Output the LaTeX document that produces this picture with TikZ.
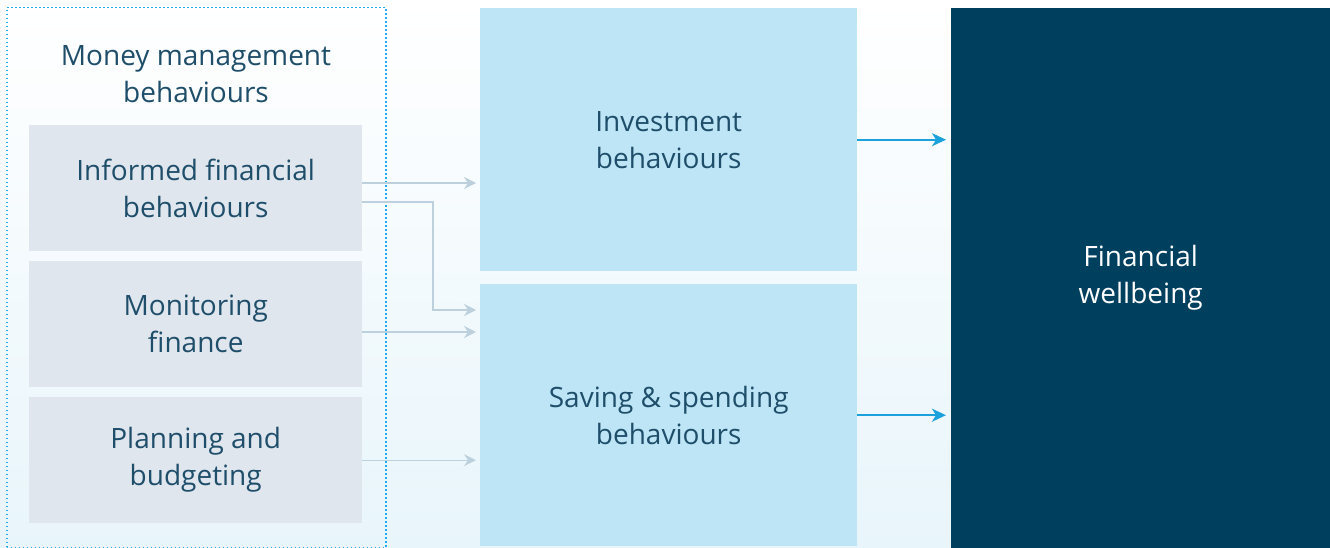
\documentclass[tikz,border=0pt]{standalone}
\usepackage{fontspec}
\setmainfont{Open Sans}
\usetikzlibrary{arrows.meta,calc}
\definecolor{bgbot}{HTML}{E8F5FB}
\definecolor{graybox}{HTML}{DFE6ED}
\definecolor{lightblue}{HTML}{BDE5F5}
\definecolor{darkblue}{HTML}{00405F}
\definecolor{txt}{HTML}{1F4E6B}
\definecolor{grayarr}{HTML}{BCD0DD}
\definecolor{bluearr}{HTML}{1BA1DB}
\definecolor{dotblue}{HTML}{1AAEEA}
\tikzset{
  box/.style={draw=none, anchor=north west, inner sep=0pt, align=center, text=txt,
    font=\fontsize{28}{37}\selectfont},
  graybx/.style={box, fill=graybox, minimum width=333pt, minimum height=126pt},
  bluebx/.style={box, fill=lightblue, minimum width=377pt},
  grayarrow/.style={draw=grayarr, line width=1.4pt, -{Stealth[length=12pt,width=12pt,inset=4pt]}, shorten >=4pt},
  bluearrow/.style={draw=bluearr, line width=1.8pt, -{Stealth[length=14pt,width=13pt,inset=4pt]}, shorten >=5pt},
}
\begin{document}
\begin{tikzpicture}[x=1pt,y=-1pt]
\useasboundingbox (0,0) rectangle (1330,548);
\shade[top color=white, bottom color=bgbot] (0,0) rectangle (1330,548);
\node[draw=dotblue, line width=1.5pt, dash pattern=on 1.5pt off 2.5pt, anchor=north west, minimum width=379pt, minimum height=540pt, inner sep=0pt] (mm) at (6,7) {};
\node[text=txt, align=center, font=\fontsize{28}{37}\selectfont] (mmt) at (196,74) {Money management\\behaviours};
\node[graybx] (inf) at (29,125) {Informed financial\\behaviours};
\node[graybx] (mon) at (29,261) {Monitoring\\finance};
\node[graybx] (pla) at (29,397) {Planning and\\budgeting};
\node[bluebx, minimum height=263pt] (inv) at (480,8) {Investment\\behaviours};
\node[bluebx, minimum height=262pt] (sav) at (480,284) {Saving \& spending\\behaviours};
\node[box, fill=darkblue, text=white, minimum width=379pt, minimum height=540pt] (fw) at (951,8) {Financial\\wellbeing};
\coordinate (a1) at ([yshift=-58pt]inf.north east);
\coordinate (a2) at ([yshift=-77pt]inf.north east);
\coordinate (b2) at (433,310);
\coordinate (a3) at ([yshift=-71pt]mon.north east);
\draw[grayarrow] (a1) -- (a1 -| inv.west);
\draw[grayarrow] (a2) -| (b2) -- (b2 -| sav.west);
\draw[grayarrow] (a3) -- (a3 -| sav.west);
\draw[grayarrow] (pla.east) -- (pla.east -| sav.west);
\draw[bluearrow] (inv.east) -- (inv.east -| fw.west);
\draw[bluearrow] (sav.east) -- (sav.east -| fw.west);
\end{tikzpicture}
\end{document}
